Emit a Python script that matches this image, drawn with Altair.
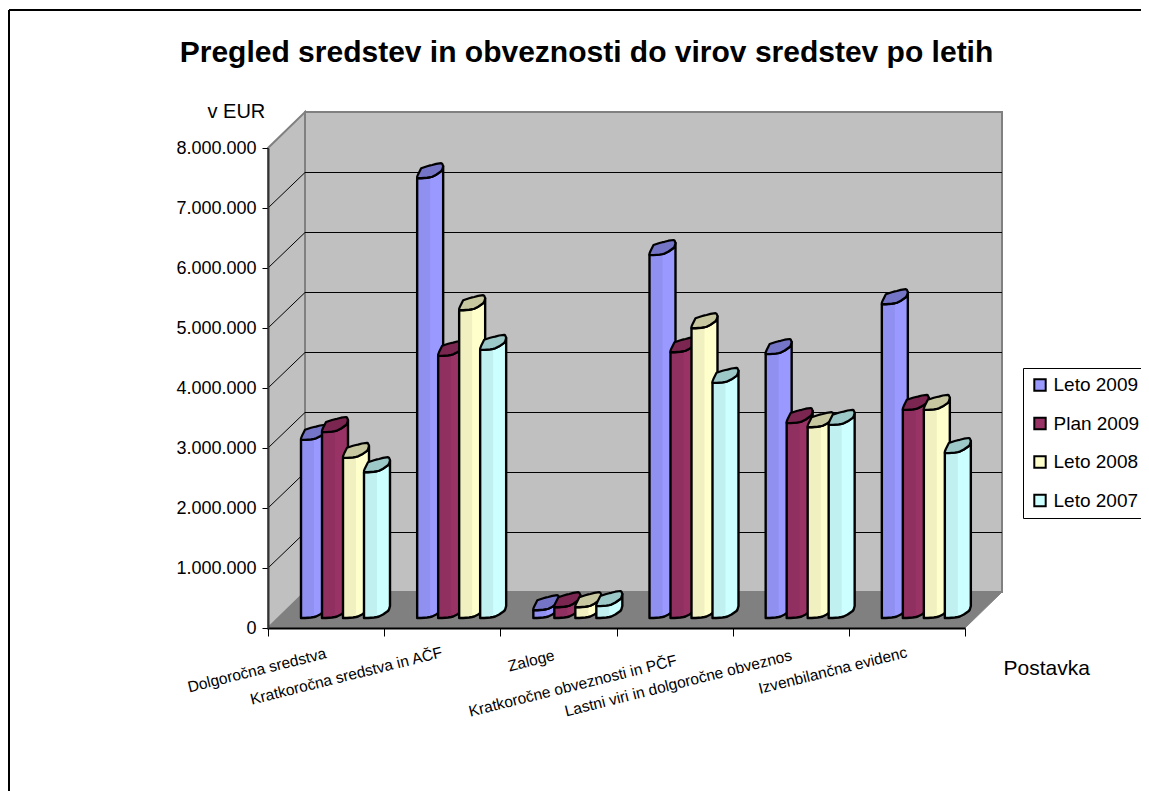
import altair as alt
import numpy as np
import pandas as pd

FONT = "Liberation Sans"
TITLE = "Pregled sredstev in obveznosti do virov sredstev po letih"
CATEGORIES = ["Dolgoročna sredstva", "Kratkoročna sredstva in AČF", "Zaloge",
              "Kratkoročne obveznosti in PČF", "Lastni viri in dolgoročne obveznos",
              "Izvenbilančna evidenc"]
SERIES = ["Leto 2009", "Plan 2009", "Leto 2008", "Leto 2007"]
LETO_2009 = [2970000, 7330000, 130000, 6050000, 4400000, 5230000]
PLAN_2009 = [3100000, 4370000, 180000, 4430000, 3250000, 3470000]
LETO_2008 = [2670000, 5130000, 180000, 4830000, 3180000, 3470000]
LETO_2007 = [2430000, 4470000, 200000, 3920000, 3220000, 2750000]
VALUES = [LETO_2009, PLAN_2009, LETO_2008, LETO_2007]
BODY_COLORS = ["#9999FF", "#993366", "#FFFFCC", "#CCFFFF"]
CAP_COLORS = ["#7575C8", "#7A2650", "#C8C8A0", "#9CC8C8"]
LABEL_Y = [-500000, -483000, -533000, -617000, -533000, -483000]
LABEL_SHIFT = [1, 1, -3, 3, 2, 1]

W, H = 697, 480
UX = 6 / W            # data units per pixel
UY = 8000000 / H
DEPTH_X = 37 * UX
DEPTH_Y = 36 * UY
BASE = 10 * UY
GAP_X = 33 * UX
STEP_X = 21 * UX

DX = [0, 1, 4, 10, 13, 15, 19, 24, 25, 26]
ARC = [0, 0, 0, 0.5, 1, 1.5, 3.5, 7, 8.5, 12]
CAP = [1.5, 4, 10, 12, 12.8, 13.2, 14.3, 15, 14.5, 12]
SHADE = [1, 2, 3, 4]  # indices into DX for the darker band

x_axis = alt.Axis(values=[0, 1, 2, 3, 4, 5, 6], labels=False, tickSize=8, tickColor="black", tickWidth=1,
                  domainColor="black", domainWidth=2, grid=False, zindex=1,
                  title="Postavka", titleFont=FONT, titleFontSize=21, titleFontWeight="normal",
                  titleColor="black", titleAlign="left", titleBaseline="alphabetic",
                  titleX=735, titleY=46)
y_axis = alt.Axis(values=list(range(0, 8000001, 1000000)),
                  labelExpr="replace(format(datum.value, ',d'), /,/g, '.')",
                  labelFont=FONT, labelFontSize=18, labelColor="black", labelPadding=6,
                  tickSize=6, tickColor="black", tickWidth=1,
                  domainColor="#333333", domainWidth=2, grid=False, zindex=1,
                  title="v EUR", titleFont=FONT, titleFontSize=20, titleFontWeight="normal",
                  titleColor="black", titleAngle=0, titleAlign="left", titleBaseline="alphabetic",
                  titleX=-61, titleY=-31)


def xq(name):
    return alt.X(name, type="quantitative", scale=alt.Scale(domain=[0, 6], nice=False, zero=False), axis=x_axis)


def yq(name):
    return alt.Y(name, type="quantitative", scale=alt.Scale(domain=[0, 8000000], nice=False, zero=False),
                 axis=y_axis, stack=None)


def bar_frames(j):
    body, cap, shade = [], [], []
    for i, v in enumerate(VALUES[j]):
        x0 = i + GAP_X + j * STEP_X
        for k, dx in enumerate(DX):
            x = x0 + dx * UX
            low = BASE + ARC[k] * UY
            top = v + BASE + ARC[k] * UY
            body.append({"bar": i, "series": SERIES[j], "x": x, "lo": low, "hi": top})
            cap.append({"bar": i, "x": x, "lo": top, "hi": v + BASE + CAP[k] * UY})
            if k in SHADE:
                shade.append({"bar": i, "x": x, "lo": low + UY, "hi": top - UY})
    return pd.DataFrame(body), pd.DataFrame(cap), pd.DataFrame(shade)


# ---- box: back wall, side wall, floor, grid
back = pd.DataFrame({"x": [DEPTH_X, 6 + DEPTH_X], "lo": [DEPTH_Y] * 2, "hi": [8000000 + DEPTH_Y] * 2})
side = pd.DataFrame({"x": [0, DEPTH_X], "lo": [0, DEPTH_Y], "hi": [8000000, 8000000 + DEPTH_Y]})
floor = pd.DataFrame({"x": [0, DEPTH_X, 6, 6 + DEPTH_X],
                      "lo": [0, 0, 0, DEPTH_Y], "hi": [0, DEPTH_Y, DEPTH_Y, DEPTH_Y]})
grid_rows = []
for m in range(1, 8):
    val = m * 1000000
    grid_rows += [{"m": m, "x": 0, "y": val}, {"m": m, "x": DEPTH_X, "y": val + DEPTH_Y - 0.5 * UY},
                  {"m": m, "x": 6 + DEPTH_X, "y": val + DEPTH_Y - 0.5 * UY}]
grid = pd.DataFrame(grid_rows)


def area(df, **mark):
    return alt.Chart(df).mark_area(orient="vertical", **mark)


layers = [
    area(back, fill="#C0C0C0", stroke="#808080", strokeWidth=2).encode(x=xq("x"), y=yq("lo"), y2="hi:Q"),
    area(side, fill="#C0C0C0", stroke="#808080", strokeWidth=2).encode(x=xq("x"), y=yq("lo"), y2="hi:Q"),
    alt.Chart(grid).mark_line(color="black", strokeWidth=1).encode(x=xq("x"), y=yq("y"), detail="m:N"),
    area(floor, fill="#808080", stroke="#808080", strokeWidth=1).encode(x=xq("x"), y=yq("lo"), y2="hi:Q"),
]

legend = alt.Legend(title=None, orient="none", legendX=755, legendY=220, symbolType="square", symbolSize=130,
                    symbolStrokeColor="black", symbolStrokeWidth=2, labelFont=FONT, labelFontSize=19,
                    labelColor="black", labelOffset=4, rowPadding=17.5, padding=7.5,
                    strokeColor="black", fillColor="white", symbolOpacity=1)
color = alt.Color("series:N", scale=alt.Scale(domain=SERIES, range=BODY_COLORS), sort=SERIES, legend=legend)

for j in range(4):
    body, cap, shade = bar_frames(j)
    layers.append(area(body, stroke="black", strokeWidth=2.4, strokeJoin="round", opacity=1).encode(
        x=xq("x"), y=yq("lo"), y2="hi:Q", detail="bar:N", color=color))
    layers.append(area(shade, fill="black", opacity=0.06).encode(
        x=xq("x"), y=yq("lo"), y2="hi:Q", detail="bar:N"))
    layers.append(area(cap, fill=CAP_COLORS[j], stroke="black", strokeWidth=2.2, strokeJoin="round").encode(
        x=xq("x"), y=yq("lo"), y2="hi:Q", detail="bar:N"))

labels = pd.DataFrame({"label": CATEGORIES,
                       "x": [i + 0.5 + s * UX for i, s in enumerate(LABEL_SHIFT)],
                       "y": LABEL_Y})
layers.append(alt.Chart(labels).mark_text(angle=346, align="right", baseline="alphabetic", font=FONT,
                                          fontSize=15.5, color="black").encode(
    x=xq("x"), y=yq("y"), text="label:N"))

# outer frame of the chart
frame = pd.DataFrame({"a": [0]})
layers.append(alt.Chart(frame).mark_rule(color="black", strokeWidth=2).encode(
    x=alt.value(-259), x2=alt.value(900), y=alt.value(-138)))
layers.append(alt.Chart(frame).mark_rule(color="black", strokeWidth=2).encode(
    x=alt.value(-259), y=alt.value(-138), y2=alt.value(700)))

chart = alt.layer(*layers).properties(
    width=W, height=H,
    autosize=alt.AutoSizeParams(type="none"),
    padding={"left": 260, "top": 140, "right": 176, "bottom": 163},
    background="white",
    title=alt.TitleParams(TITLE, font=FONT, fontSize=30, fontWeight="bold", color="black",
                          anchor="middle", frame="group", dx=-30, offset=-59),
).configure_view(stroke=None)

chart.save("out.html", embed_options={"renderer": "svg", "actions": False})
